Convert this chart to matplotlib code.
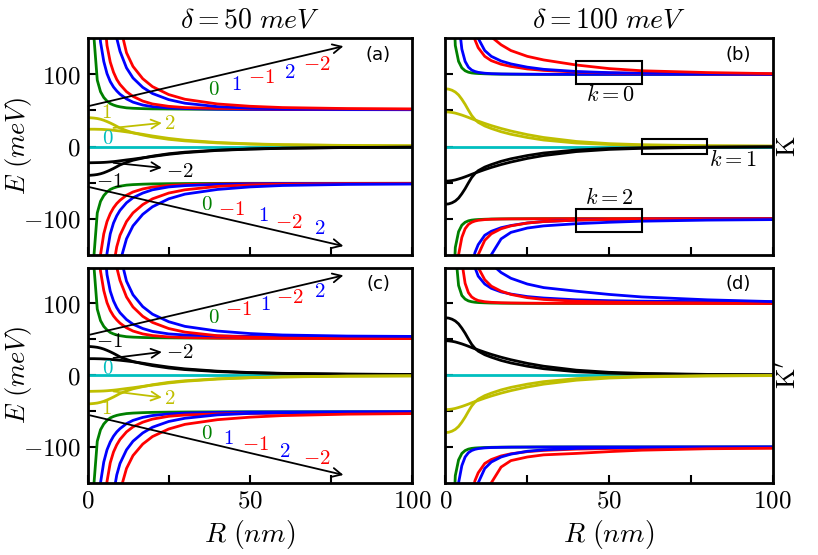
import numpy as np
import matplotlib
matplotlib.use("Agg")
import matplotlib.pyplot as plt
from matplotlib.patches import Rectangle

plt.rcParams['mathtext.fontset'] = 'cm'
plt.rcParams['font.family'] = ['DejaVu Serif']

# radius grid (nm) shared by all curves
R = [0, 1, 2, 3, 4, 5, 6, 7, 8, 9, 10, 12, 14, 17, 20, 25, 30, 40, 50, 60, 80, 100]
cyan_R = [0, 100]
cyan_E = [0, 0]

# ---- panel (a): K, delta = 50 meV ----
a_up_g = [500, 300, 150, 92, 76, 68, 63, 59.5, 57.5, 56, 55, 53.6, 53, 52.5, 52.2, 52, 51.8, 51.6, 51.5, 51.5, 51.4, 51.4]
a_up_b1 = [500, 500, 400, 200, 145, 118, 101, 90, 82.5, 77, 72.5, 66, 61.5, 57.5, 55.3, 53.5, 52.6, 51.8, 51.4, 51.2, 51.1, 51]
a_up_r1 = [500, 500, 500, 500, 400, 190, 140, 117, 103, 93, 86, 76, 69.5, 63, 59, 55.7, 54, 52.8, 52.3, 52, 51.8, 51.7]
a_up_b2 = [500, 500, 500, 500, 500, 500, 500, 270, 185, 150, 132, 109, 95, 82, 73.5, 65, 60, 55.3, 53.2, 52.2, 51.5, 51.2]
a_up_r2 = [500, 500, 500, 500, 500, 500, 500, 500, 300, 215, 168, 130, 111, 94, 83, 72, 65.5, 59, 55.8, 54, 52.6, 52]
a_lo_g = [-500, -300, -150, -92, -76, -68, -63, -59.5, -57.5, -56, -55, -53.5, -52.8, -52.2, -51.8, -51.5, -51.3, -51.1, -51, -51, -51, -51]
a_lo_r1 = [-500, -500, -400, -210, -150, -121, -104, -93, -85, -79, -74.5, -67.5, -63, -58.8, -56.2, -54, -52.8, -51.8, -51.4, -51.2, -51.1, -51]
a_lo_b1 = [-500, -500, -500, -500, -500, -230, -148, -121, -106, -96, -88.5, -78, -71, -64.5, -60, -56, -54.2, -52.5, -51.8, -51.4, -51.2, -51.1]
a_lo_r2 = [-500, -500, -500, -500, -500, -500, -500, -230, -165, -139, -123, -104, -92, -80.5, -72.5, -64.5, -60, -55.3, -53.2, -52.2, -51.5, -51.2]
a_lo_b2 = [-500, -500, -500, -500, -500, -500, -500, -500, -320, -220, -160, -128, -110, -94, -83.5, -72.5, -66, -59.5, -56, -54, -52.5, -52]
a_y1 = [40, 39.8, 39.4, 38.8, 37.8, 36.4, 34.6, 32.6, 30.4, 28, 25.5, 22, 19, 16, 13.3, 10, 7.8, 5, 3.4, 2.3, 1.3, 0.9]
a_y2 = [24, 24, 24, 23.9, 23.8, 23.6, 23.3, 23, 22.5, 22, 21.5, 20.3, 19, 16.9, 14.6, 11.3, 8.8, 5.6, 3.7, 2.6, 1.5, 1]
a_k1 = [-40, -39.8, -39.4, -38.8, -37.8, -36.4, -34.6, -32.6, -30.4, -28, -25.5, -22, -19, -16, -13.3, -10, -7.8, -5, -3.4, -2.3, -1.3, -0.9]
a_k2 = [-22.5, -22.5, -22.4, -22.3, -22.2, -22, -21.7, -21.3, -20.9, -20.4, -19.8, -18.6, -17.5, -15.6, -13.8, -10.8, -8.5, -5.4, -3.6, -2.5, -1.4, -1]

# ---- panel (b): K, delta = 100 meV ----
b_up_g = [500, 400, 250, 140, 118, 109, 105, 103, 102, 101.5, 101.2, 100.8, 100.5, 100.3, 100.2, 100.1, 100, 100, 100, 100, 100, 100]
b_up_b1 = [500, 500, 400, 300, 175, 135, 118, 110, 106, 104, 102.8, 101.6, 101, 100.6, 100.4, 100.2, 100.1, 100, 100, 100, 100, 100]
b_up_r1 = [500, 500, 500, 500, 500, 500, 500, 240, 168, 148, 137, 125, 119, 114, 111, 107.5, 105.5, 103.2, 102, 101.3, 100.7, 100.4]
b_up_b2 = [500, 500, 500, 500, 500, 500, 500, 500, 300, 195, 150, 133, 125, 118.5, 114.5, 110, 107, 104, 102.4, 101.5, 100.8, 100.4]
b_up_r2 = [500, 500, 500, 500, 500, 500, 500, 500, 400, 250, 181, 164, 152, 141, 133, 125, 120, 113, 108, 105, 102.5, 101]
b_lo_g = [-500, -400, -250, -140, -118, -109, -105, -103, -102, -101.5, -101.2, -100.8, -100.5, -100.3, -100.2, -100.1, -100, -100, -100, -100, -100, -100]
b_lo_r1 = [-500, -500, -400, -220, -150, -126, -114, -108, -105, -103.3, -102.3, -101.3, -100.8, -100.5, -100.3, -100.2, -100.1, -100, -100, -100, -100, -100]
b_lo_b1 = [-500, -500, -500, -500, -500, -500, -500, -240, -168, -147, -136, -123, -117.5, -112.5, -109.5, -106, -104, -102, -101.2, -100.8, -100.4, -100.2]
b_lo_r2 = [-500, -500, -500, -500, -500, -500, -500, -500, -300, -195, -150, -130, -121, -114, -110, -106, -104, -102, -101, -100.6, -100.3, -100.1]
b_lo_b2 = [-500, -500, -500, -500, -500, -500, -500, -500, -400, -250, -181, -164, -150, -128, -119, -113, -110, -107, -105, -103.5, -102, -101.3]
b_y1 = [80, 79.5, 78, 75.5, 71.5, 65.5, 58.5, 50.5, 43, 37.5, 33.5, 28.5, 25, 20.5, 17, 12.5, 9, 4.8, 2.8, 1.7, 0.8, 0.4]
b_y2 = [48, 47.8, 47.2, 46.3, 45, 43.6, 42, 40.3, 38.5, 36.8, 35.2, 32, 29, 25, 21.5, 16.5, 12.5, 7, 4, 2.5, 1.1, 0.6]
b_k1 = [-48, -47.8, -47.2, -46.3, -45, -43.6, -42, -40.3, -38.5, -36.8, -35.2, -32, -29, -25, -21.5, -16.5, -12.5, -7, -4, -2.5, -1.1, -0.6]
b_k2 = [-80, -79.5, -78, -75.5, -71.5, -65.5, -58.5, -50.5, -43, -37.5, -33.5, -28.5, -25, -20.5, -17, -12.5, -9, -4.8, -2.8, -1.7, -0.8, -0.4]

# ---- panel (c): K', delta = 50 meV ----
c_up_g = [500, 300, 150, 92, 76, 68, 63, 59.5, 57.5, 56, 55, 53.6, 53, 52.5, 52.2, 52, 51.8, 51.6, 51.5, 51.5, 51.4, 51.4]
c_up_r1 = [500, 500, 400, 200, 145, 118, 101, 90, 82.5, 77, 72.5, 66, 61.5, 57.5, 55.2, 53.3, 52.4, 51.7, 51.4, 51.2, 51.1, 51]
c_up_b1 = [500, 500, 500, 500, 400, 190, 140, 117, 103.5, 94, 87, 77.5, 71, 65, 61, 57.5, 56, 54.6, 54, 53.7, 53.5, 53.4]
c_up_r2 = [500, 500, 500, 500, 500, 500, 500, 270, 185, 150, 132, 109, 95, 82, 73.5, 65, 60, 55, 53, 52, 51.5, 51.2]
c_up_b2 = [500, 500, 500, 500, 500, 500, 500, 500, 300, 215, 168, 131, 112, 95.5, 85, 74.5, 68, 61.5, 58, 56, 54.5, 54]
c_lo_g = [-500, -300, -150, -92, -76, -68, -63, -59.5, -57.5, -56, -55, -53.5, -52.8, -52.2, -51.8, -51.5, -51.3, -51.1, -51, -51, -51, -51]
c_lo_b1 = [-500, -500, -400, -210, -150, -121, -104, -93, -85, -79, -74.5, -67.5, -63, -58.8, -56.2, -54, -52.8, -51.8, -51.4, -51.2, -51.1, -51]
c_lo_r1 = [-500, -500, -500, -500, -500, -230, -148, -122, -107, -97, -89.5, -79, -72, -65.5, -61.2, -57.3, -55.5, -54, -53.3, -53, -52.7, -52.5]
c_lo_b2 = [-500, -500, -500, -500, -500, -500, -500, -230, -165, -139, -123, -104, -92, -80.5, -72.5, -64.5, -60, -55.3, -53.2, -52.2, -51.5, -51.2]
c_lo_r2 = [-500, -500, -500, -500, -500, -500, -500, -500, -500, -220, -162, -130, -112, -96, -85.5, -75, -68.5, -62, -58.5, -56.3, -54.3, -53.5]
c_k1 = [40, 39.8, 39.4, 38.8, 37.8, 36.4, 34.6, 32.6, 30.4, 28, 25.5, 22, 19, 16, 13.3, 10, 7.8, 5, 3.4, 2.3, 1.3, 0.9]
c_k2 = [23, 23, 23, 22.9, 22.8, 22.6, 22.3, 22, 21.6, 21.2, 20.8, 19.8, 18.7, 16.7, 14.5, 11.3, 8.8, 5.6, 3.7, 2.6, 1.5, 1]
c_y1 = [-22.5, -22.5, -22.4, -22.3, -22.2, -22, -21.7, -21.3, -20.9, -20.4, -19.8, -18.6, -17.5, -15.6, -13.8, -10.8, -8.5, -5.4, -3.6, -2.5, -1.4, -1]
c_y2 = [-40, -39.8, -39.4, -38.8, -37.8, -36.4, -34.6, -32.6, -30.4, -28, -25.5, -22, -19, -16, -13.3, -10, -7.8, -5, -3.4, -2.3, -1.3, -0.9]

# ---- panel (d): K', delta = 100 meV ----
d_up_g = [500, 450, 300, 175, 125, 111, 106, 103.5, 102.3, 101.6, 101.2, 100.8, 100.5, 100.3, 100.2, 100.1, 100, 100, 100, 100, 100, 100]
d_up_r1 = [500, 500, 500, 400, 250, 158, 128, 115, 109, 106, 104, 102.3, 101.5, 100.9, 100.6, 100.3, 100.2, 100.1, 100, 100, 100, 100]
d_up_b1 = [500, 500, 500, 500, 500, 500, 500, 260, 180, 150, 138, 127, 121, 116, 113, 109.5, 107.5, 105, 103.8, 103.1, 102.5, 102.2]
d_up_r2 = [500, 500, 500, 500, 500, 500, 500, 500, 300, 195, 150, 133, 124, 117, 112.5, 108, 105.5, 103, 101.8, 101.2, 100.6, 100.3]
d_up_b2 = [500, 500, 500, 500, 500, 500, 500, 500, 500, 260, 190, 168, 155, 143, 135, 127, 122, 117, 112.5, 109, 105, 102.5]
d_lo_g = [-500, -400, -250, -140, -118, -109, -105, -103, -102, -101.5, -101.2, -100.8, -100.5, -100.3, -100.2, -100.1, -100, -100, -100, -100, -100, -100]
d_lo_b1 = [-500, -500, -400, -220, -150, -126, -114, -108, -105, -103.3, -102.3, -101.3, -100.8, -100.5, -100.3, -100.2, -100.1, -100, -100, -100, -100, -100]
d_lo_r1 = [-500, -500, -500, -500, -500, -500, -500, -240, -168, -147, -136, -123, -117.5, -112.5, -109.5, -106.5, -104.8, -103, -102.2, -101.8, -101.4, -101.2]
d_lo_b2 = [-500, -500, -500, -500, -500, -500, -500, -500, -300, -195, -150, -130, -121, -114, -110, -106, -104, -102, -101, -100.6, -100.3, -100.1]
d_lo_r2 = [-500, -500, -500, -500, -500, -500, -500, -500, -400, -250, -181, -164, -150, -128, -119, -114, -111, -109, -106.5, -104.5, -102.5, -101.8]
d_k1 = [80, 79.5, 78, 75.5, 71.5, 65.5, 58.5, 50.5, 43, 37.5, 33.5, 28.5, 25, 20.5, 17, 12.5, 9, 4.8, 2.8, 1.7, 0.8, 0.4]
d_k2 = [48, 47.8, 47.2, 46.3, 45, 43.6, 42, 40.3, 38.5, 36.8, 35.2, 32, 29, 25, 21.5, 16.5, 12.5, 7, 4, 2.5, 1.1, 0.6]
d_y1 = [-48, -47.8, -47.2, -46.3, -45, -43.6, -42, -40.3, -38.5, -36.8, -35.2, -32, -29, -25, -21.5, -16.5, -12.5, -7, -4, -2.5, -1.1, -0.6]
d_y2 = [-80, -79.5, -78, -75.5, -71.5, -65.5, -58.5, -50.5, -43, -37.5, -33.5, -28.5, -25, -20.5, -17, -12.5, -9, -4.8, -2.8, -1.7, -0.8, -0.4]

LW = 2.0


def draw_panel(ax, mids, upper, lower):
    # zero mode first, then the yellow/black pairs, then the bands
    ax.plot(cyan_R, cyan_E, color='c', lw=LW)
    for E, col in mids:
        ax.plot(R, E, color=col, lw=LW)
    for E, col in upper + lower:
        ax.plot(R, E, color=col, lw=LW)


def style_axes(ax, left_labels, bottom_labels):
    ax.set_xlim(0, 100)
    ax.set_ylim(-150, 150)
    ax.set_xticks([0, 25, 50, 75, 100])
    ax.set_yticks([-100, -50, 0, 50, 100])
    ax.set_xticklabels(['$0$', '', '$50$', '', '$100$'] if bottom_labels else [])
    ax.set_yticklabels(['$-100$', '', '$0$', '', '$100$'] if left_labels else [])
    ax.tick_params(direction='in', length=6, width=1.5, labelsize=18, pad=5)
    for s in ax.spines.values():
        s.set_linewidth(2.0)


def arrow(ax, start, end, col='k'):
    ax.annotate('', xy=end, xytext=start,
                arrowprops=dict(arrowstyle='->', color=col, lw=1.3,
                                mutation_scale=16, shrinkA=0, shrinkB=0))


fig = plt.figure(figsize=(8.18, 5.55), dpi=100)
axa = fig.add_axes([0.107, 0.541, 0.397, 0.39])
axb = fig.add_axes([0.5446, 0.541, 0.40, 0.39])
axc = fig.add_axes([0.107, 0.130, 0.397, 0.388])
axd = fig.add_axes([0.5446, 0.130, 0.40, 0.388])

draw_panel(axa, [(a_y1, 'y'), (a_y2, 'y'), (a_k1, 'k'), (a_k2, 'k')],
           [(a_up_g, 'g'), (a_up_b1, 'b'), (a_up_r1, 'r'), (a_up_b2, 'b'), (a_up_r2, 'r')],
           [(a_lo_g, 'g'), (a_lo_r1, 'r'), (a_lo_b1, 'b'), (a_lo_r2, 'r'), (a_lo_b2, 'b')])
draw_panel(axb, [(b_y1, 'y'), (b_y2, 'y'), (b_k1, 'k'), (b_k2, 'k')],
           [(b_up_g, 'g'), (b_up_b1, 'b'), (b_up_r1, 'r'), (b_up_b2, 'b'), (b_up_r2, 'r')],
           [(b_lo_g, 'g'), (b_lo_r1, 'r'), (b_lo_b1, 'b'), (b_lo_r2, 'r'), (b_lo_b2, 'b')])
draw_panel(axc, [(c_k1, 'k'), (c_k2, 'k'), (c_y1, 'y'), (c_y2, 'y')],
           [(c_up_g, 'g'), (c_up_r1, 'r'), (c_up_b1, 'b'), (c_up_r2, 'r'), (c_up_b2, 'b')],
           [(c_lo_g, 'g'), (c_lo_b1, 'b'), (c_lo_r1, 'r'), (c_lo_b2, 'b'), (c_lo_r2, 'r')])
draw_panel(axd, [(d_k1, 'k'), (d_k2, 'k'), (d_y1, 'y'), (d_y2, 'y')],
           [(d_up_g, 'g'), (d_up_r1, 'r'), (d_up_b1, 'b'), (d_up_r2, 'r'), (d_up_b2, 'b')],
           [(d_lo_g, 'g'), (d_lo_b1, 'b'), (d_lo_r1, 'r'), (d_lo_b2, 'b'), (d_lo_r2, 'r')])

style_axes(axa, True, False)
style_axes(axb, False, False)
style_axes(axc, True, True)
style_axes(axd, False, True)

axa.set_title(r'$\delta = 50\ meV$', fontsize=20, pad=8)
axb.set_title(r'$\delta = 100\ meV$', fontsize=20, pad=8)
axa.set_ylabel(r'$E\ (meV)$', fontsize=19)
axc.set_ylabel(r'$E\ (meV)$', fontsize=19)
axa.yaxis.set_label_coords(-0.165, 0.5)
axc.yaxis.set_label_coords(-0.165, 0.5)
axc.set_xlabel(r'$R\ (nm)$', fontsize=20, labelpad=4)
axd.set_xlabel(r'$R\ (nm)$', fontsize=20, labelpad=4)

for ax, tag in [(axa, '(a)'), (axb, '(b)'), (axc, '(c)'), (axd, '(d)')]:
    ax.text(89.5, 127, tag, fontsize=13, family='DejaVu Sans', ha='center', va='center')

axb.text(1.045, 0.5, r'$\mathrm{K}$', transform=axb.transAxes, rotation=90,
         fontsize=19, ha='center', va='center')
axd.text(1.045, 0.5, r"$\mathrm{K}'$", transform=axd.transAxes, rotation=90,
         fontsize=19, ha='center', va='center')

fs = 15
# panel (a) annotations
arrow(axa, (0.3, 56), (78.8, 139))
arrow(axa, (0.3, -56), (78.8, -138))
for x, y, s, c in [(38.8, 79, '$0$', 'g'), (45.8, 86, '$1$', 'b'), (53.7, 95, '$-1$', 'r'),
                   (62.4, 103, '$2$', 'b'), (70.6, 113, '$-2$', 'r'),
                   (36.7, -80, '$0$', 'g'), (44.4, -87, '$-1$', 'r'), (54.2, -96, '$1$', 'b'),
                   (61.9, -105, '$-2$', 'r'), (71.6, -114, '$2$', 'b'),
                   (5.9, 47, '$1$', 'y'), (6.4, 11, '$0$', 'c'), (25.4, 32, '$2$', 'y'),
                   (28.5, -35, '$-2$', 'k'), (6.9, -48, '$-1$', 'k')]:
    axa.text(x, y, s, color=c, fontsize=fs, ha='center', va='center')
arrow(axa, (8, 25.8), (22.9, 32.7), 'y')
arrow(axa, (8, -22.6), (22.9, -29.5), 'k')

# panel (c) annotations
arrow(axc, (0.8, 56.5), (78.8, 139))
arrow(axc, (0.8, -56), (78.8, -139))
for x, y, s, c in [(38.8, 80, '$0$', 'g'), (46.5, 91, '$-1$', 'r'), (54.7, 99, '$1$', 'b'),
                   (62.4, 108.5, '$-2$', 'r'), (71.6, 116, '$2$', 'b'),
                   (36.7, -81, '$0$', 'g'), (43.4, -88, '$1$', 'b'), (51.6, -96, '$-1$', 'r'),
                   (60.6, -107, '$2$', 'b'), (70.6, -116.5, '$-2$', 'r'),
                   (6.9, 47, '$-1$', 'k'), (6.4, 10, '$0$', 'c'), (28.5, 32, '$-2$', 'k'),
                   (25.4, -33, '$2$', 'y'), (5.9, -47, '$1$', 'y')]:
    axc.text(x, y, s, color=c, fontsize=fs, ha='center', va='center')
arrow(axc, (8, 24), (22.9, 32.4), 'k')
arrow(axc, (8, -22.6), (22.9, -31), 'y')

# panel (b) boxes around the k = 0, 1, 2 crossings
for x0, y0, w, h in [(40, 87, 20, 32), (60, -10, 20, 20), (40, -118.5, 20, 31.5)]:
    axb.add_patch(Rectangle((x0, y0), w, h, fill=False, ec='k', lw=1.5, zorder=5))
axb.text(50.3, 72, '$k=0$', fontsize=16, ha='center', va='center')
axb.text(88, -18, '$k=1$', fontsize=16, ha='center', va='center')
axb.text(50, -71, '$k=2$', fontsize=16, ha='center', va='center')

plt.savefig('out.png', dpi=100)
